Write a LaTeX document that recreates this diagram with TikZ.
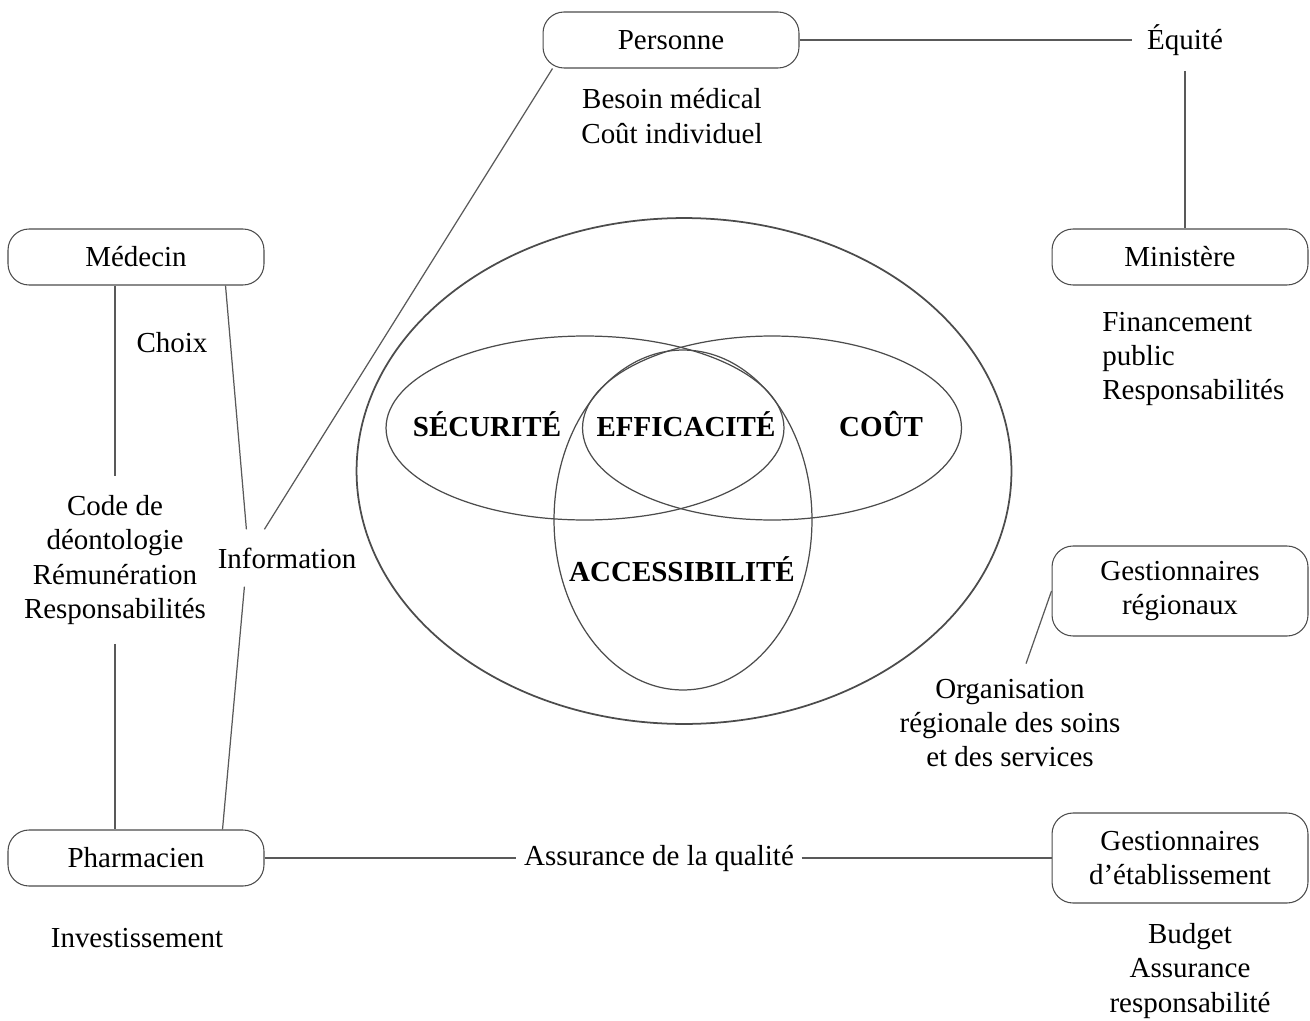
\documentclass[tikz,border=0pt]{standalone}
\usepackage{fontspec}
\setmainfont{Liberation Serif}
\usetikzlibrary{shapes.geometric,positioning}
\tikzset{
  actor/.style={draw=black!70, line width=0.6pt, rounded corners=0.42cm,
    minimum width=5.12cm, minimum height=1.12cm, align=center, inner sep=0pt},
  note/.style={align=center, inner sep=0.3cm},
  link/.style={draw=black!65, line width=0.7pt},
  zone/.style={draw=black!70, ellipse, inner sep=0pt, line width=0.7pt},
  crit/.style={font=\fontsize{16.5}{19.5}\selectfont\bfseries}
}
\begin{document}
\begin{tikzpicture}[x=0.02cm, y=-0.02cm, font=\fontsize{16.5}{19.5}\selectfont]
\useasboundingbox (0,0) rectangle (1310,1020);
% acteurs
\node[actor] (personne) at (671,40) {Personne};
\node[actor] (medecin) at (136,257) {Médecin};
\node[actor] (ministere) at (1180,257) {Ministère};
\node[actor, minimum height=1.8cm] (gestreg) at (1180,591) {Gestionnaires\\régionaux};
\node[actor] (pharma) at (136,858) {Pharmacien};
\node[actor, minimum height=1.8cm] (gestetab) at (1180,858) {Gestionnaires\\d’établissement};
% textes
\node[note] (besoin) at (672,116) {Besoin médical\\Coût individuel};
\node[note] (equite) at (1185,40) {Équité};
\node[note, align=left, anchor=west, inner sep=0pt] (finance) at (1102,359) {Financement\\public\\Responsabilités};
\node[note] (choix) at (172,343) {Choix};
\node[note, inner xsep=0pt, inner ysep=0.38cm] (code) at (115,560) {Code de\\déontologie\\Rémunération\\Responsabilités};
\node[note, inner sep=0.36cm] (info) at (287,558) {Information};
\node[note] (orga) at (1010,723) {Organisation\\régionale des soins\\et des services};
\node[note] (invest) at (137,938) {Investissement};
\node[note, inner sep=0.15cm] (qualite) at (659,858) {Assurance de la qualité};
\node[note] (budget) at (1190,971) {Budget\\Assurance\\responsabilité};
% criteres
\node[zone, line width=1pt, minimum width=13.1cm, minimum height=10.12cm] (outer) at (684,471) {};
\node[zone, minimum width=7.96cm, minimum height=3.68cm] (secu) at (585,428) {};
\node[zone, minimum width=7.58cm, minimum height=3.68cm] (cout) at (772,428) {};
\node[zone, minimum width=5.16cm, minimum height=6.8cm] (acces) at (683,520) {};
\node[crit] (lsecu) at (487,424) {SÉCURITÉ};
\node[crit] (leffi) at (686,424) {EFFICACITÉ};
\node[crit] (lcout) at (881,424) {COÛT};
\node[crit] (lacces) at (682,569) {ACCESSIBILITÉ};
% liens
\draw[link] (personne.east) -- (equite.west);
\draw[link] (equite.south) -- (ministere.north -| equite.south);
\draw[link] (medecin.south -| code.north) -- (code.north);
\draw[link] (code.south) -- (pharma.north -| code.south);
\draw[link] ([xshift=-0.78cm]medecin.south east) -- ([xshift=0.94cm]info.north west);
\draw[link] ([xshift=0.9cm]info.south west) -- ([xshift=-0.84cm]pharma.north east);
\draw[link] ([xshift=0.2cm]personne.south west) -- ([xshift=1.3cm]info.north west);
\draw[link] (gestreg.west) -- ([xshift=0.32cm]orga.north);
\draw[link] (pharma.east) -- (qualite.west);
\draw[link] (qualite.east) -- (gestetab.west);
\end{tikzpicture}
\end{document}
